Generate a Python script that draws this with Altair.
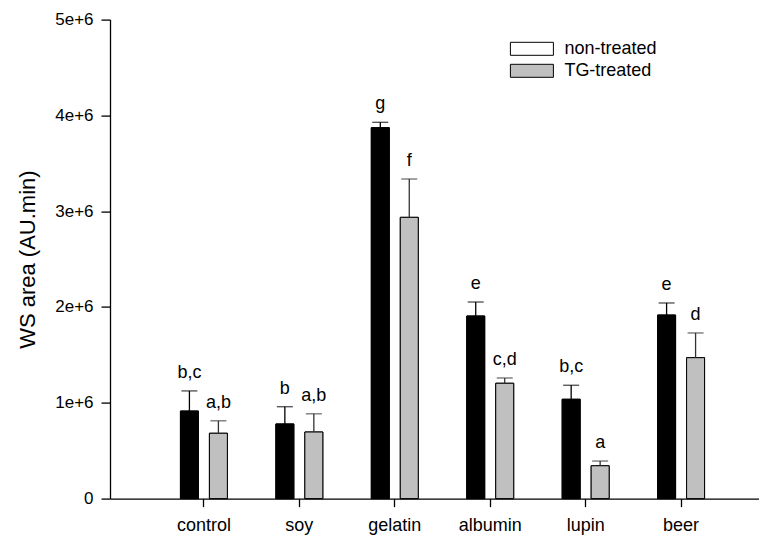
import altair as alt
import pandas as pd

categories = ["control", "soy", "gelatin", "albumin", "lupin", "beer"]
series_names = ["non-treated", "TG-treated"]

nontreated_mean = [0.914e6, 0.779e6, 3.872e6, 1.906e6, 1.037e6, 1.916e6]
nontreated_err = [0.21e6, 0.18e6, 0.056e6, 0.146e6, 0.146e6, 0.126e6]
nontreated_letter = ["b,c", "b", "g", "e", "b,c", "e"]

treated_mean = [0.682e6, 0.695e6, 2.936e6, 1.204e6, 0.343e6, 1.471e6]
treated_err = [0.13e6, 0.19e6, 0.40e6, 0.055e6, 0.049e6, 0.258e6]
treated_letter = ["a,b", "a,b", "f", "c,d", "a", "d"]

y_ticks = [0, 1e6, 2e6, 3e6, 4e6, 5e6]

rows = []
for i, c in enumerate(categories):
    rows.append({"cat": c, "series": series_names[0], "mean": nontreated_mean[i],
                 "err": nontreated_err[i], "letter": nontreated_letter[i]})
    rows.append({"cat": c, "series": series_names[1], "mean": treated_mean[i],
                 "err": treated_err[i], "letter": treated_letter[i]})
df = pd.DataFrame(rows)

FONT = "Liberation Sans"

x_enc = alt.X("cat:N", sort=categories,
              scale=alt.Scale(range=[0, 665], paddingInner=0.508, paddingOuter=0.738, round=False),
              axis=alt.Axis(title=None, labelFontSize=18, labelColor="black", labelFont=FONT,
                            tickSize=8, tickColor="black", tickWidth=1.3,
                            domainColor="black", domainWidth=1.3, labelPadding=10,
                            labelAngle=0, grid=False))
xo_enc = alt.XOffset("series:N", sort=series_names,
                     scale=alt.Scale(paddingInner=0.38, paddingOuter=0))
y_enc = alt.Y("mean:Q",
              scale=alt.Scale(domain=[0, 5e6], nice=False, zero=True),
              axis=alt.Axis(values=y_ticks, grid=False,
                            labelExpr="datum.value == 0 ? '0' : format(datum.value/1e6, 'd') + 'e+6'",
                            labelFontSize=17, labelColor="black", labelFont=FONT,
                            tickSize=9, tickColor="black", tickWidth=1.3,
                            domainColor="black", domainWidth=1.3, labelPadding=8,
                            title="WS area (AU.min)", titleFontSize=22, titleFont=FONT,
                            titleFontWeight="normal", titleColor="black",
                            titleX=-83, titleY=239.5, titleAngle=270,
                            titleAlign="center", titleBaseline="middle"))

base = alt.Chart(df)

legend_bars = base.mark_bar(stroke="black", strokeWidth=1).encode(
    x=x_enc, xOffset=xo_enc, y=y_enc,
    fill=alt.Fill("series:N", sort=series_names,
                  scale=alt.Scale(domain=series_names, range=["white", "#c0c0c0"]),
                  legend=alt.Legend(title=None, orient="none", legendX=408.9, legendY=16.2,
                                    symbolType="M-1.72,-0.52L1.72,-0.52L1.72,0.52L-1.72,0.52Z",
                                    symbolSize=625, symbolStrokeColor="black",
                                    symbolStrokeWidth=1, labelFontSize=18, labelFont=FONT,
                                    labelColor="black", labelOffset=19.5, rowPadding=0,
                                    padding=0, labelLimit=300))
)

bars = base.mark_bar(stroke="black", strokeWidth=1).encode(
    x=x_enc, xOffset=xo_enc, y=y_enc,
    fill=alt.Fill("series:N", sort=series_names,
                  scale=alt.Scale(domain=series_names, range=["black", "#c0c0c0"]),
                  legend=None)
)

err_color = alt.condition(alt.datum.series == "non-treated", alt.value("black"), alt.value("#333333"))

rules = base.mark_rule(strokeWidth=1.3).encode(
    x=x_enc, xOffset=xo_enc, y=y_enc,
    y2="top:Q",
    color=err_color
).transform_calculate(top="datum.mean + datum.err")

caps = base.mark_tick(thickness=1.3, size=16).encode(
    x=x_enc, xOffset=xo_enc,
    y=alt.Y("top:Q"),
    color=err_color
).transform_calculate(top="datum.mean + datum.err")

labels = base.mark_text(fontSize=18, font=FONT, color="black", baseline="alphabetic",
                        align="center", dy=-13).encode(
    x=x_enc, xOffset=xo_enc,
    y=alt.Y("top:Q"),
    text="letter:N"
).transform_calculate(top="datum.mean + datum.err")

chart = alt.layer(legend_bars, bars, rules, caps, labels).resolve_scale(
    fill="independent"
).properties(
    width=649, height=479,
    autosize=alt.AutoSizeParams(type="none"),
    padding={"left": 102, "top": 11.6, "right": 0, "bottom": 38}
).configure_view(stroke=None)

chart.save("out.html", embed_options={"renderer": "svg", "actions": False})
